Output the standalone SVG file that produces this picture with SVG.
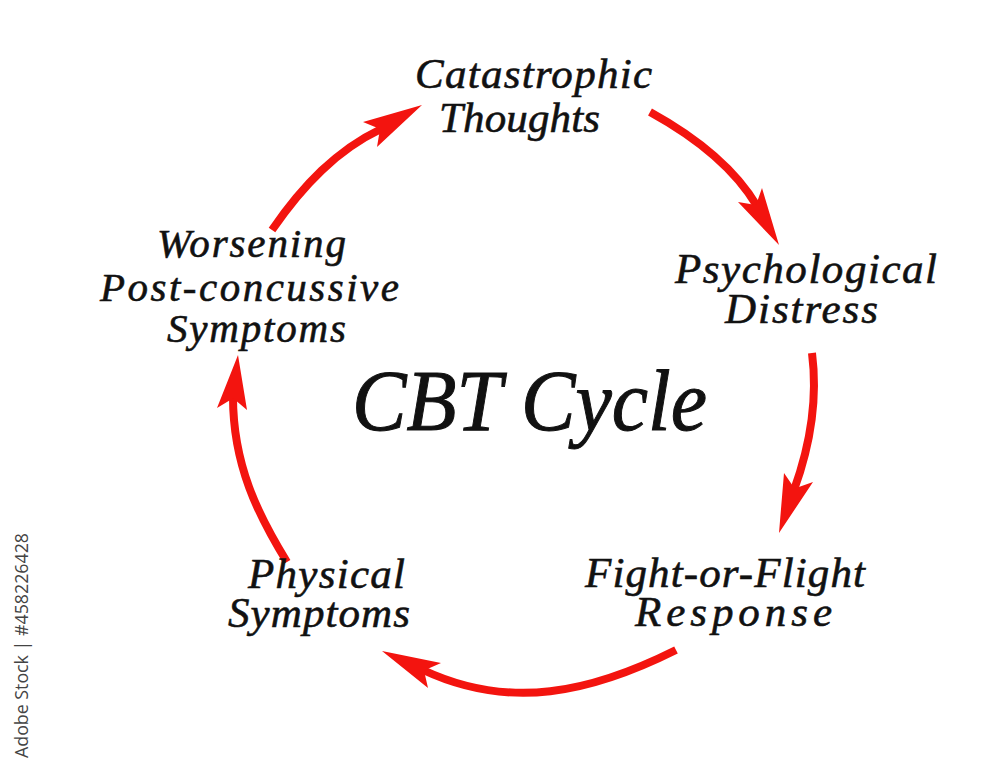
<svg xmlns="http://www.w3.org/2000/svg" width="1000" height="773" viewBox="0 0 1000 773">
<style>
.lbl{font-family:"Liberation Serif","Times New Roman",serif;font-style:italic;font-size:43px;fill:#111;stroke:#111;stroke-width:0.6;}
.title{font-family:"Liberation Serif","Times New Roman",serif;font-style:italic;font-size:86px;fill:#111;stroke:#111;stroke-width:1;}
.shaft{fill:none;stroke:#f3140f;stroke-width:8;stroke-linecap:butt;}
.head{fill:#f3140f;stroke:none;}
.wm{font-family:"Open Sans","DejaVu Sans",sans-serif;font-size:18px;fill:#444;}
</style>
<rect width="1000" height="773" fill="#ffffff"/>
<g id="connectors">
  <path class="shaft" d="M272,230 C303,185 337,150 381,129"/>
  <polygon class="head" points="422,105 363,122 380,129 377,147"/>
  <path class="shaft" d="M650,112 C690,134 732,164 757,206"/>
  <polygon class="head" points="779,245 738,202 756,205 762,188"/>
  <path class="shaft" d="M812,353 C818,400 810,446 794,490"/>
  <polygon class="head" points="779,533 784,473 794.6,488.6 813,482"/>
  <path class="shaft" d="M676,650 C591,692.5 510,710.8 423,670"/>
  <polygon class="head" points="382,651 441,663 424,670.6 428,688"/>
  <path class="shaft" d="M287,562 C258,515 233,465 233,397"/>
  <polygon class="head" points="238,355 217,408 233.2,398.2 247,410"/>
</g>
<g id="title">
  <text class="title" x="352" y="430" textLength="355" lengthAdjust="spacingAndGlyphs">CBT Cycle</text>
</g>
<g id="node-catastrophic">
  <text class="lbl" x="415" y="88" textLength="237" lengthAdjust="spacing">Catastrophic</text>
  <text class="lbl" x="439" y="132" textLength="161" lengthAdjust="spacing">Thoughts</text>
</g>
<g id="node-psychological">
  <text class="lbl" x="675" y="283" textLength="262" lengthAdjust="spacing">Psychological</text>
  <text class="lbl" x="725" y="323" textLength="153" lengthAdjust="spacing">Distress</text>
</g>
<g id="node-fight">
  <text class="lbl" x="585" y="587" textLength="280" lengthAdjust="spacing">Fight-or-Flight</text>
  <text class="lbl" x="635" y="626" textLength="197" lengthAdjust="spacing">Response</text>
</g>
<g id="node-physical">
  <text class="lbl" x="248" y="588" textLength="157" lengthAdjust="spacing">Physical</text>
  <text class="lbl" x="228" y="627" textLength="182" lengthAdjust="spacing">Symptoms</text>
</g>
<g id="node-worsening">
  <text class="lbl" x="157" y="257" textLength="189" lengthAdjust="spacing" style="font-size:41px">Worsening</text>
  <text class="lbl" x="100" y="301" textLength="299" lengthAdjust="spacing" style="font-size:41px">Post-concussive</text>
  <text class="lbl" x="167" y="342" textLength="179" lengthAdjust="spacing" style="font-size:41px">Symptoms</text>
</g>
<g id="watermark">
  <text class="wm" transform="translate(28,758) rotate(-90)" textLength="225" lengthAdjust="spacingAndGlyphs">Adobe Stock | #458226428</text>
</g>
</svg>
